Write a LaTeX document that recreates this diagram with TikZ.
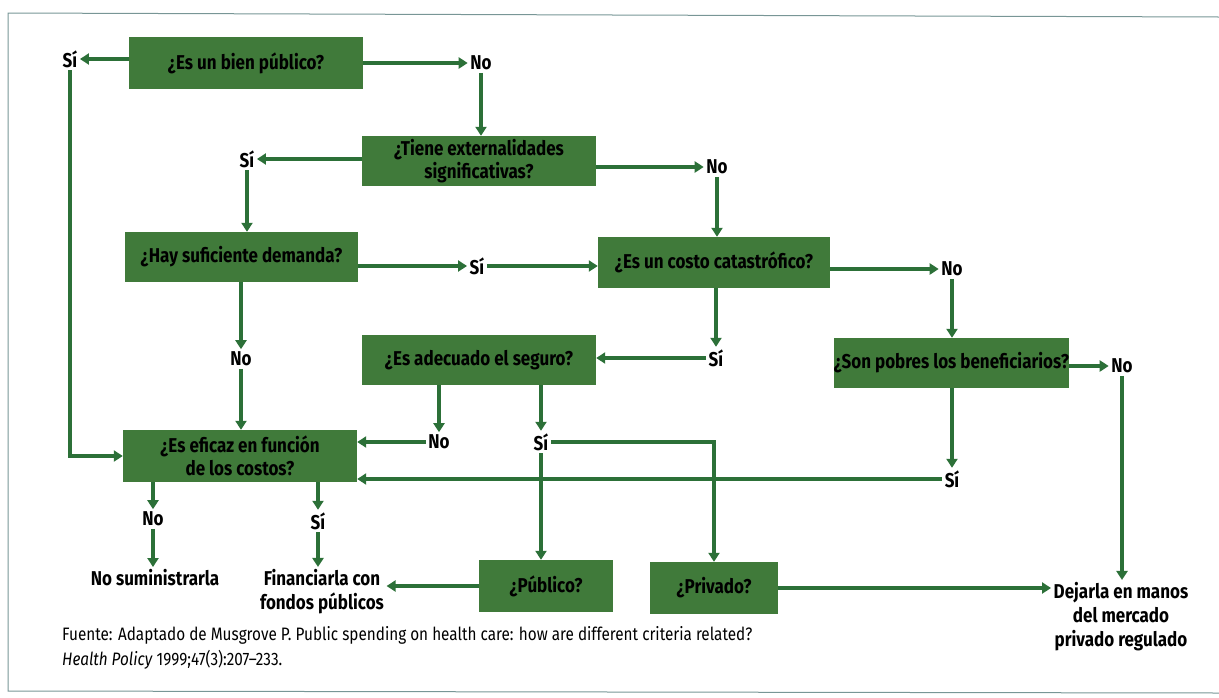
\documentclass[tikz,border=0pt]{standalone}
\usepackage{fontspec}
\setmainfont{Fira Sans}[FakeStretch=0.85]
\usetikzlibrary{arrows.meta}
\definecolor{boxgreen}{RGB}{64,122,58}
\definecolor{linegreen}{RGB}{44,112,56}
\definecolor{framecol}{RGB}{120,150,150}
\begin{document}
\begin{tikzpicture}[x=1pt,y=-1pt,
  box/.style={fill=boxgreen, minimum height=50, inner sep=0pt, font=\fontsize{20}{23}\selectfont\bfseries, align=center},
  lbl/.style={inner sep=2.5pt, font=\fontsize{20}{24}\selectfont\bfseries, align=center},
  conn/.style={draw=linegreen, line width=3.2pt},
  arr/.style={conn, -{Triangle[length=9pt,width=11pt]}},
  foot/.style={inner sep=0pt, anchor=west, font=\fontsize{18}{20}\selectfont}]
\useasboundingbox (0,0) rectangle (1219,697);
% frame
\draw[framecol, line width=1pt] (1219,17) -- (8,13) -- (8,691) -- (1219,693);

% decision boxes
\node[box, minimum width=234, minimum height=52] (A) at (246,63) {¿Es un bien público?};
\node[box, minimum width=234] (B) at (479,161) {¿Tiene externalidades\\significativas?};
\node[box, minimum width=233] (C) at (241.5,257) {¿Hay suficiente demanda?};
\node[box, minimum width=232, minimum height=51] (D) at (714,262.5) {¿Es un costo catastrófico?};
\node[box, minimum width=234] (G) at (479,360) {¿Es adecuado el seguro?};
\node[box, minimum width=233] (F) at (951.5,363) {¿Son pobres los beneficiarios?};
\node[box, minimum width=234, minimum height=52] (E) at (240,456) {¿Es eficaz en función\\de los costos?};
\node[box, minimum width=134, minimum height=52] (H) at (546,586) {¿Público?};
\node[box, minimum width=128, minimum height=52] (I) at (714,588) {¿Privado?};

% answers
\node[lbl] (siA) at (70,59) {Sí};
\node[lbl] (noA) at (481,63) {No};
\node[lbl] (siB) at (247,159) {Sí};
\node[lbl] (noB) at (717,167) {No};
\node[lbl] (siC) at (477,266) {Sí};
\node[lbl] (noC) at (241,359) {No};
\node[lbl] (noD) at (952,269) {No};
\node[lbl] (siD) at (716,358) {Sí};
\node[lbl] (noF) at (1122,366) {No};
\node[lbl] (siF) at (952,479) {Sí};
\node[lbl] (noG) at (439,442) {No};
\node[lbl] (siG) at (541,442) {Sí};
\node[lbl] (noE) at (153,519) {No};
\node[lbl] (siE) at (318,521) {Sí};

% outcomes
\node[lbl] (out1) at (155,578) {No suministrarla};
\node[lbl] (out2) at (322,592) {Financiarla con\\fondos públicos};
\node[lbl] (out3) at (1121,617) {Dejarla en manos\\del mercado\\privado regulado};

% connectors
\draw[arr] (A.west |- siA) -- (siA.east);
\draw[arr] (A.east |- noA) -- (noA.west);
\draw[arr] (noA.south) -- (noA.south |- B.north);
\draw[arr] (B.west |- siB) -- (siB.east);
\draw[arr] (B.east |- noB) -- (noB.west);
\draw[arr] (siB.south) -- (siB.south |- C.north);
\draw[arr] (C.east |- siC) -- (siC.west);
\draw[arr] (siC.east) -- (siC.east -| D.west);
\draw[arr] (noB.south) -- (noB.south |- D.north);
\draw[arr] (D.east |- noD) -- (noD.west);
\draw[arr] (noD.south) -- (noD.south |- F.north);
\draw[arr] (F.east |- noF) -- (noF.west);
\draw[arr] (siD.north |- D.south) -- (siD.north);
\draw[arr] (siD.west) -- (siD.west -| G.east);
\draw[arr] (noC.north |- C.south) -- (noC.north);
\draw[arr] (noC.south) -- (noC.south |- E.north);
\draw[arr] (siA.south) |- (E.west);
\draw[arr] (noG.north |- G.south) -- (noG.north);
\draw[arr] (siG.north |- G.south) -- (siG.north);
\draw[arr] (noG.west) -- (noG.west -| E.east);
\draw[arr] (siF.north |- F.south) -- (siF.north);
\draw[arr] (siF.west) -- (siF.west -| E.east);
\draw[arr] (siG.south) -- (siG.south |- H.north);
\draw[arr] (siG.east) -| (I.north);
\draw[arr] (noF.south) -- (noF.south |- out3.north);
\draw[arr] (I.east) -- (I.east -| out3.west);
\draw[arr] (H.west) -- (H.west -| out2.east);
\draw[arr] (noE.north |- E.south) -- (noE.north);
\draw[arr] (siE.north |- E.south) -- (siE.north);
\draw[arr] (noE.south) -- (noE.south |- out1.north);
\draw[arr] (siE.south) -- (siE.south |- out2.north);

% source note
\node[foot] (src1) at (62,635) {Fuente: Adaptado de Musgrove P. Public spending on health care: how are different criteria related?};
\node[foot] (src2) at (62,660) {\textit{Health Policy} 1999;47(3):207–233.};
\end{tikzpicture}
\end{document}
